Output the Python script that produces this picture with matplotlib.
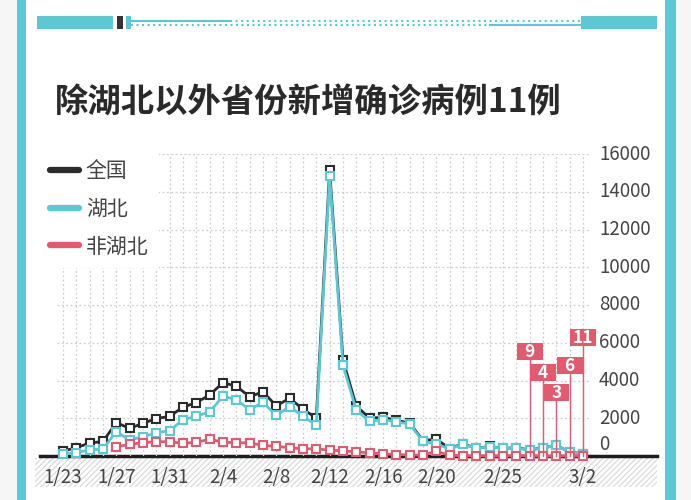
import numpy as np
import pandas as pd
import matplotlib
matplotlib.use("Agg")
import matplotlib.pyplot as plt
from matplotlib.patches import Rectangle
from matplotlib.lines import Line2D
from matplotlib.transforms import offset_copy

plt.rcParams['font.family'] = ['Noto Sans CJK SC', 'DejaVu Sans']
plt.rcParams['hatch.color'] = '#d6d6d6'
plt.rcParams['hatch.linewidth'] = 0.8

# -----------------------------------
# Data
# -----------------------------------

dates = pd.date_range("2020-01-23", "2020-03-02")
date_labels = [f"{d.month}/{d.day}" for d in dates]
tick_labels = ["1/23", "1/27", "1/31", "2/4", "2/8", "2/12", "2/16", "2/20", "2/25", "3/2"]

national = [259, 444, 688, 769, 1771, 1459, 1737, 1982, 2102,
            2590, 2829, 3235, 3887, 3694, 3143, 3399, 2656, 3062, 2478,
            2015, 15152, 5090, 2641, 2009, 2048, 1886, 1749, 820, 889,
            397, 648, 409, 508, 406, 433, 327, 427, 573,
            202, 125]

hubei = [105, 180, 323, 371, 1291, 840, 1032, 1220, 1347,
         1921, 2103, 2345, 3156, 2987, 2447, 2841, 2147, 2618, 2097,
         1638, 14840, 4823, 2420, 1843, 1933, 1807, 1693, 775, 631,
         366, 630, 398, 499, 401, 409, 318, 423, 570,
         196, 114]

non_hubei = [np.nan, np.nan, np.nan, np.nan,
             480, 619, 705, 762, 755,
             669, 726, 890, 731, 707, 696, 558, 509, 444, 381,
             377, 312, 267, 221, 166, 115, 79, 56, 45, 258,
             31, 18, 11, 9, 5, 24, 9, 4, 3,
             6, 11]

y_ticks = [0, 2000, 4000, 6000, 8000, 10000, 12000, 14000, 16000]

# last five days get a label box, box heights are layout only
n_flags = 5
flag_heights = [5530, 4410, 3350, 4790, 6270]

BLACK = "#2b2b2b"
TEAL = "#5bc8d4"
RED = "#e25a6d"
W, H = 691, 500


def fx(x):
    return x / W


def fy(y):
    return 1 - y / H


# -----------------------------------
# Figure + frame
# -----------------------------------

fig = plt.figure(figsize=(6.91, 5.00), dpi=100)
fig.patch.set_facecolor("white")

for x0, x1, c in [(0, 17, "#f6f6f6"), (676, 691, "#f6f6f6"),
                  (17, 26, TEAL), (665, 676, TEAL)]:
    fig.patches.append(Rectangle((fx(x0), 0), fx(x1 - x0), 1,
                                 transform=fig.transFigure, color=c, lw=0, zorder=-2))

# top decoration
for x0, x1, c in [(37, 113, TEAL), (117, 123, "#333333"), (126, 131, TEAL), (581, 657, TEAL)]:
    fig.patches.append(Rectangle((fx(x0), fy(29)), fx(x1 - x0), 13 / H,
                                 transform=fig.transFigure, color=c, lw=0, zorder=-2))
for x0, x1, y, ls in [(131, 230, 21, "-"), (230, 581, 21, ":"),
                      (131, 490, 25, ":"), (490, 581, 25, "-")]:
    fig.lines.append(Line2D([fx(x0), fx(x1)], [fy(y), fy(y)], transform=fig.transFigure,
                            color=TEAL, lw=1.5, ls=ls))

# hatched band under the axis
fig.patches.append(Rectangle((fx(35), fy(487)), fx(657 - 35), 29 / H,
                             transform=fig.transFigure, facecolor="white",
                             edgecolor="#d6d6d6", hatch="//////", lw=0, zorder=-1))
# base line
fig.lines.append(Line2D([fx(40), fx(657)], [fy(456), fy(456)], transform=fig.transFigure,
                        color="#1e1e1e", lw=2.5, zorder=-0.5))

fig.text(fx(55), fy(103), "除湖北以外省份新增确诊病例11例", fontsize=24,
         fontweight="bold", color="#2a2a2a", va="center", ha="left")

# -----------------------------------
# Chart
# -----------------------------------

ax = fig.add_axes([fx(57), fy(456), fx(590 - 57), (456 - 154) / H])
ax.set_facecolor("none")

x = np.arange(len(dates))

ax.plot(x, national, color=BLACK, lw=2, marker="s", ms=6, mfc="white",
        mec=BLACK, mew=1.5, label="全国", clip_on=False, zorder=3)
ax.plot(x, hubei, color=TEAL, lw=2, marker="s", ms=6, mfc="white",
        mec=TEAL, mew=1.5, label="湖北", clip_on=False, zorder=4)
ax.plot(x, non_hubei, color=RED, lw=2, marker="s", ms=6, mfc="white",
        mec=RED, mew=1.5, label="非湖北", clip_on=False, zorder=5)

ax.set_xlim(-0.45, 39.53)
ax.set_ylim(0, 16000)

# grid
for v in y_ticks[1:]:
    ax.axhline(v, color="#cfcfcf", lw=0.9, ls=(0, (1.5, 2)), zorder=1)
ax.vlines(x, 0, 16000, color="#cfcfcf", lw=0.9, linestyles=(0, (1.5, 2)), zorder=1)

for s in ax.spines.values():
    s.set_visible(False)

ax.set_xticks([date_labels.index(t) for t in tick_labels])
ax.set_xticklabels(tick_labels)
ax.tick_params(axis="x", length=0, pad=8, labelsize=13.5, labelcolor="#444444")
ax.set_yticks([])

ytrans = ax.get_yaxis_transform()
for v in y_ticks:
    tr = ytrans if v else offset_copy(ytrans, fig=fig, y=11, units="dots")
    ax.text(1.017, v, f"{v}", transform=tr, ha="left", va="center",
            fontsize=13.5, color="#444444")

# flags for the last days
box_w = 1.95
box_h = 900
for i, hgt in zip(range(len(x) - n_flags, len(x)), flag_heights):
    val = non_hubei[i]
    ax.plot([x[i], x[i]], [val, hgt - box_h / 2], color=RED, lw=1, zorder=6, clip_on=False)
    ax.add_patch(Rectangle((x[i] - box_w / 2, hgt - box_h / 2), box_w, box_h,
                           facecolor=RED, lw=0, zorder=7, clip_on=False))
    ax.text(x[i], hgt, f"{val}", color="white", fontsize=12.5, fontweight="bold",
            ha="center", va="center", zorder=8)

leg = ax.legend(loc="upper left", bbox_to_anchor=(fx(40), fy(150)),
                bbox_transform=fig.transFigure, borderaxespad=0,
                fontsize=15, labelcolor="#444444", frameon=True, fancybox=False,
                facecolor="white", edgecolor="none", framealpha=1,
                handlelength=1.35, handletextpad=0.35, labelspacing=0.75,
                borderpad=0.5)
for h in leg.get_lines():
    h.set_marker("")
    h.set_linewidth(4.5)
    h.set_solid_capstyle("round")
leg.set_zorder(10)

fig.savefig("out.png", dpi=100, facecolor=fig.get_facecolor())
